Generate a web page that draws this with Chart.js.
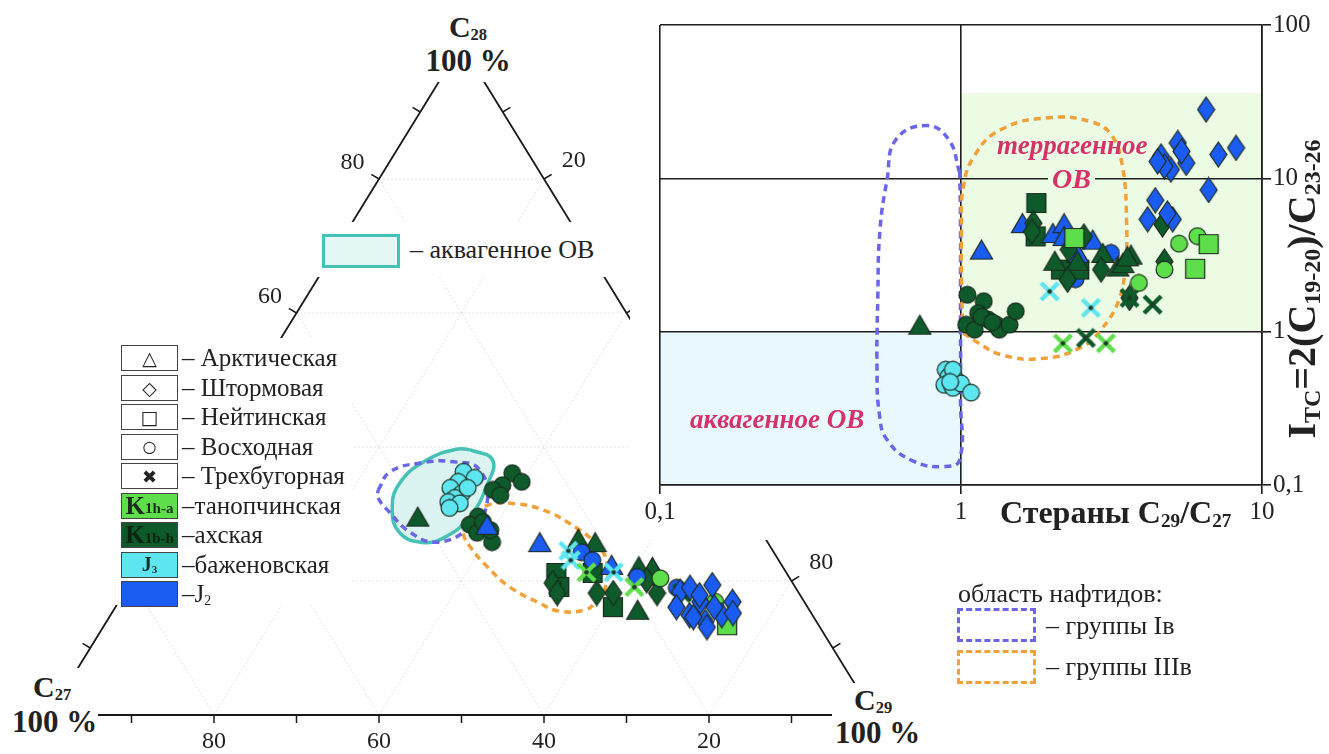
<!DOCTYPE html>
<html>
<head>
<meta charset="utf-8">
<script src="https://cdn.jsdelivr.net/npm/chart.js@4.4.1/dist/chart.umd.min.js"></script>
<style>
  body { margin: 0; width: 1329px; height: 754px; position: relative; overflow: hidden; background: #fff;
         font-family: "Liberation Serif", "Times New Roman", serif; color: #222; }
  canvas { position: absolute; }
  #tern { left: 0; top: 0; }
  #ratio { left: 630px; top: 0; background: #fff; }
  .abs { position: absolute; white-space: nowrap; line-height: 1; }
  sub { font-size: 0.55em; vertical-align: -0.2em; line-height: 0; }
  .row { position: absolute; left: 37px; height: 26px; display: flex; align-items: center; }
  .box { width: 57px; height: 26px; box-sizing: border-box; border: 1.5px solid #444; background: #fff;
         display: flex; align-items: center; justify-content: center; }
  .sym { font-family: "DejaVu Sans", sans-serif; font-size: 19px; color: #222; }
  .rowtxt { font-size: 25px; margin-left: 4px; }
  .red { color: #d6326a; font-style: italic; font-weight: bold; }
</style>
</head>
<body>
<canvas id="tern" width="1329" height="754"></canvas>
<canvas id="ratio" width="699" height="540"></canvas>

<!-- ternary corner labels -->
<div class="abs" style="left:418px;top:10px;width:100px;height:72px;background:#fff;text-align:center;font-weight:bold;">
  <div style="font-size:30px;margin-top:2px;">C<sub>28</sub></div>
  <div style="font-size:31px;margin-top:3px;">100 %</div>
</div>
<div class="abs" style="left:6px;top:668px;width:92px;height:84px;background:#fff;font-weight:bold;">
  <div style="font-size:30px;margin-left:27px;margin-top:4px;">C<sub>27</sub></div>
  <div style="font-size:31px;margin-left:6px;margin-top:4px;">100 %</div>
</div>
<div class="abs" style="left:832px;top:683px;width:97px;height:70px;background:#fff;font-weight:bold;">
  <div style="font-size:30px;margin-left:22px;margin-top:2px;">C<sub>29</sub></div>
  <div style="font-size:31px;margin-left:3px;margin-top:2px;">100 %</div>
</div>

<!-- aquagenic legend -->
<div class="abs" style="left:300px;top:222px;width:312px;height:55px;background:#fff;">
  <div style="position:absolute;left:22px;top:12px;width:78px;height:34px;box-sizing:border-box;border:3px solid #45c2b5;background:#e4f7f4;"></div>
  <div class="abs" style="left:110px;top:15px;font-size:26px;">– аквагенное ОВ</div>
</div>

<!-- symbol legend -->
<div style="position:absolute;left:84px;top:338px;width:268px;height:267px;background:#fff;">
  <div class="row" style="top:7px"><div class="box"><span class="sym">△</span></div><span class="rowtxt">– Арктическая</span></div>
  <div class="row" style="top:36.5px"><div class="box"><span class="sym">◇</span></div><span class="rowtxt">– Штормовая</span></div>
  <div class="row" style="top:66px"><div class="box"><span class="sym">□</span></div><span class="rowtxt">– Нейтинская</span></div>
  <div class="row" style="top:95.5px"><div class="box"><span class="sym" style="font-size:16px">○</span></div><span class="rowtxt">– Восходная</span></div>
  <div class="row" style="top:125px"><div class="box"><span class="sym" style="font-size:18px">✖</span></div><span class="rowtxt">– Трехбугорная</span></div>
  <div class="row" style="top:154.5px"><div class="box" style="background:#5fde4b;"><b style="font-size:25px;color:#1a2a1a">K</b><b style="font-size:15px;color:#1a2a1a;margin-top:6px">1h-a</b></div><span class="rowtxt">–танопчинская</span></div>
  <div class="row" style="top:184px"><div class="box" style="background:#0e5a2b;"><b style="font-size:25px;color:#08240f">K</b><b style="font-size:15px;color:#08240f;margin-top:6px">1b-h</b></div><span class="rowtxt">–ахская</span></div>
  <div class="row" style="top:213.5px"><div class="box" style="background:#5ee6f0;"><b style="font-size:20px;color:#14302e">J<sub>3</sub></b></div><span class="rowtxt">–баженовская</span></div>
  <div class="row" style="top:243px"><div class="box" style="background:#1a5cf2;"></div><span class="rowtxt">–J<sub>2</sub></span></div>
</div>

<!-- naphthide legend -->
<div class="abs" style="left:958px;top:581px;font-size:26px;">область нафтидов:</div>
<div class="abs" style="left:957px;top:608px;width:79px;height:34px;box-sizing:border-box;border:3.5px dashed #6a66e6;"></div>
<div class="abs" style="left:957px;top:650px;width:79px;height:34px;box-sizing:border-box;border:3.5px dashed #f0a13a;"></div>
<div class="abs" style="left:1046px;top:613px;font-size:26px;">– группы Iв</div>
<div class="abs" style="left:1046px;top:654px;font-size:26px;">– группы IIIв</div>

<!-- ratio plot labels -->
<div class="abs red" style="left:997px;top:132px;font-size:27px;">террагенное</div>
<div class="abs red" style="left:1048px;top:165px;width:47px;height:24px;text-align:center;font-size:28px;background:#ebfbe4;">ОВ</div>
<div class="abs red" style="left:690px;top:406px;font-size:27px;">аквагенное ОВ</div>
<div class="abs" style="left:1000px;top:496px;font-size:32px;font-weight:bold;">Стераны C<sub style="font-size:0.6em">29</sub>/C<sub style="font-size:0.6em">27</sub></div>
<div class="abs" style="left:1106px;top:265px;width:400px;height:48px;text-align:center;font-size:40px;font-weight:bold;transform:rotate(-90deg);">I<sub style="font-size:0.6em">TC</sub>=2(C<sub style="font-size:0.6em">19-20</sub>)/C<sub style="font-size:0.6em">23-26</sub></div>

<script>
// ---------- ternary diagram: each point is [C28 %, C29 %]; C27 = 100 - C28 - C29 ----------
const ternArcticAkh = [[29.6, 29.9], [26.3, 51.0], [25.8, 53.3], [22.2, 60.4], [22.1, 62.1], [15.7, 63.5]];
const ternArcticJ2 = [[28.4, 38.9], [25.8, 46.6], [22.4, 57.0]];
const ternStormAkh = [[19.7, 51.2], [18.2, 52.5], [18.2, 57.3], [18.2, 59.3], [18.2, 64.6], [20.1, 62.4]];
const ternStormJ2 = [[18.4, 67.3], [19.0, 68.2], [19.4, 70.7], [16.9, 70.5], [14.9, 70.2], [13.9, 72.6], [14.9, 74.1],
                     [16.9, 74.4], [16.1, 72.6], [16.1, 68.0], [14.6, 70.8], [13.1, 73.2], [15.2, 75.3], [17.9, 69.9]];
const ternNeytAkh = [[21.2, 50.9], [19.1, 52.3], [21.2, 55.3], [16.1, 60.3]];
const ternNeytTan = [[13.4, 75.5]];
const ternVoskhAkh = [[36.1, 38.1], [34.8, 39.9], [34.3, 37.8], [33.6, 37.0], [32.8, 38.3], [29.6, 37.2], [28.4, 36.8],
                      [27.2, 38.3], [25.8, 40.8], [27.6, 39.7], [28.8, 38.2], [20.6, 62.9]];
const ternVoskhTan = [[20.4, 63.9], [16.9, 72.3]];
const ternVoskhBazh = [[36.3, 32.1], [35.4, 33.9], [34.8, 32.2], [33.9, 31.7], [33.1, 33.5], [32.4, 33.0], [31.8, 32.5],
                       [31.6, 34.0], [30.9, 33.1], [33.9, 33.8]];
const ternVoskhJ2 = [[24.3, 52.4], [23.1, 54.3], [20.6, 61.0], [19.0, 66.6]];
const ternTrekhBazh = [[24.5, 50.7], [23.1, 51.7], [21.3, 57.8]];
const ternTrekhTan = [[21.3, 54.5], [19.1, 61.4]];
const ternTrekhAkh = [[18.2, 67.6]];

// fields on the ternary diagram, [C28 %, C29 %]
const ternAquaField = [[39.6, 31.2], [38.1, 34.7], [34.6, 35.9], [29.6, 36.2], [26.4, 34.6], [25.8, 32.1], [27.2, 28.9],
                       [30.6, 26.3], [34.6, 25.2], [38.1, 26.8], [39.7, 29.7], [39.6, 31.2]];
const ternGroupIb = [[33.6, 23.1], [36.3, 23.2], [37.6, 26.2], [37.8, 30.1], [36.6, 33.9], [31.3, 37.4], [27.9, 37.0],
                     [25.8, 34.1], [27.3, 30.1], [30.3, 26.1], [32.5, 23.6], [33.6, 23.1]];
const ternGroupIIIb = [[29.1, 35.9], [31.3, 37.5], [31.6, 40.1], [30.6, 44.6], [27.9, 50.0], [25.4, 53.7], [22.7, 56.3],
                       [18.7, 58.0], [16.7, 57.8], [15.7, 57.2], [15.5, 54.1], [16.7, 51.1], [19.1, 46.3], [22.1, 42.1],
                       [25.1, 38.5], [27.2, 36.6], [29.1, 35.9]];

const ternGrid = [20, 40, 60, 80];
const ternTicks = [10, 20, 30, 40, 50, 60, 70, 80, 90];
const ternLeftLabels = [20, 40, 60, 80];    // C28
const ternRightLabels = [20, 40, 60, 80];   // C29
const ternBottomLabels = [20, 40, 60, 80];  // C27

// ---------- ratio plot: each point is [C29/C27, I_TC] ----------
const ratioArcticAkh = [[0.73, 1.11], [2.44, 2.9], [2.96, 3.26], [3.32, 2.66], [3.67, 3.18], [3.45, 2.8], [3.57, 3.1], [2.05, 2.9]];
const ratioArcticJ2 = [[1.17, 3.43], [1.60, 5.1], [2.02, 4.4], [2.2, 5.1], [2.2, 4.2], [2.74, 3.98], [2.44, 3.26]];
const ratioStormAkh = [[1.74, 5.1], [2.56, 4.18], [2.28, 3.43], [2.26, 2.18], [2.92, 2.54], [3.63, 1.66], [4.67, 5.0], [4.74, 2.87], [1.72, 4.5]];
const ratioStormJ2 = [[6.52, 28.1], [4.62, 13.9], [5.25, 17.0], [4.98, 11.4], [5.6, 12.6], [4.74, 12.0], [4.5, 12.9], [5.4, 15.0],
                      [7.16, 14.3], [8.2, 15.8], [6.65, 8.4], [4.42, 7.2], [4.17, 5.4], [5.05, 5.4], [4.85, 5.9]];
const ratioNeytAkh = [[1.78, 6.9], [1.77, 4.18], [2.15, 2.54], [2.47, 2.54]];
const ratioNeytTan = [[2.38, 4.08], [6.65, 3.72], [6.0, 2.57]];
const ratioVoskhAkh = [[1.05, 1.74], [1.19, 1.58], [1.14, 1.32], [1.04, 1.11], [1.11, 1.03], [1.23, 1.2], [1.31, 1.11],
                       [1.34, 1.03], [1.45, 1.11], [1.52, 1.36], [1.17, 1.25], [1.27, 1.15]];
const ratioVoskhTan = [[3.9, 2.08], [5.3, 3.75], [6.1, 4.2], [4.74, 2.54]];
const ratioVoskhBazh = [[0.89, 0.565], [0.91, 0.51], [0.96, 0.49], [0.88, 0.45], [0.94, 0.43], [1.0, 0.46], [1.08, 0.40],
                        [0.94, 0.565], [0.92, 0.47]];
const ratioVoskhJ2 = [[2.4, 2.2], [3.15, 3.26]];
const ratioTrekhBazh = [[1.97, 1.83], [2.7, 1.43]];
const ratioTrekhTan = [[2.18, 0.84], [3.03, 0.84]];
const ratioTrekhAkh = [[2.6, 0.91], [4.33, 1.5], [3.63, 1.66]];

const ratioGroupIb = [[0.99, 10.9], [0.91, 17.9], [0.769, 22.1], [0.608, 17.9], [0.568, 9.8], [0.538, 4.6], [0.529, 1.62],
                      [0.526, 0.565], [0.535, 0.296], [0.568, 0.197], [0.695, 0.143], [0.878, 0.132], [0.99, 0.146],
                      [0.996, 0.36], [0.996, 1.62], [0.996, 5.4], [0.99, 10.9]];
const ratioGroupIIIb = [[1.015, 0.985], [1.004, 2.18], [1.004, 4.6], [1.015, 8.44], [1.105, 13.9], [1.358, 20.8], [1.99, 24.9],
                        [2.70, 23.4], [3.15, 19.3], [3.43, 12.3], [3.55, 5.14], [3.51, 2.65], [3.35, 1.62], [2.92, 1.03],
                        [2.50, 0.787], [1.84, 0.667], [1.358, 0.708], [1.139, 0.848], [1.015, 0.985]];

const terrRegion = { xMin: 1, xMax: 10, yMin: 1, yMax: 36 };
const aquaRegion = { xMin: 0.1, xMax: 1.02, yMin: 0.1, yMax: 1 };

const xTicks = [0.1, 1, 10];
const xTickLabels = ['0,1', '1', '10'];
const yTicks = [0.1, 1, 10, 100];
const yTickLabels = ['0,1', '1', '10', '100'];

// ---------- styles ----------
const C_AKH = '#0e5a2b', C_TAN = '#5fde4b', C_BAZH = '#5ee6f0', C_J2 = '#1a5cf2';
const C_IB = '#6a66e6', C_IIIB = '#f0a13a';

function marker(shape, fill) {
  const sizes = { circle: [19, 19], triangle: [25, 22], square: [22, 22], diamond: [19, 27], cross: [23, 23] };
  const [w, h] = sizes[shape];
  const c = document.createElement('canvas');
  c.width = w; c.height = h;
  const g = c.getContext('2d');
  g.fillStyle = fill; g.strokeStyle = '#1c2a1f'; g.lineWidth = 1.2;
  g.beginPath();
  if (shape === 'circle') g.arc(w / 2, h / 2, 8.4, 0, Math.PI * 2);
  if (shape === 'triangle') { g.moveTo(w / 2, 1.5); g.lineTo(w - 1.5, h - 1.5); g.lineTo(1.5, h - 1.5); g.closePath(); }
  if (shape === 'square') g.rect(1.5, 1.5, w - 3, h - 3);
  if (shape === 'diamond') { g.moveTo(w / 2, 1); g.lineTo(w - 1, h / 2); g.lineTo(w / 2, h - 1); g.lineTo(1, h / 2); g.closePath(); }
  if (shape === 'cross') {
    g.strokeStyle = fill; g.lineWidth = 4.5;
    g.moveTo(3, 3); g.lineTo(w - 3, h - 3); g.moveTo(w - 3, 3); g.lineTo(3, h - 3); g.stroke();
    g.beginPath(); g.fillStyle = '#1d3a2a'; g.arc(w / 2, h / 2, 2.3, 0, Math.PI * 2); g.fill();
    return c;
  }
  g.fill(); g.stroke();
  return c;
}

const toTern = ([c28, c29]) => ({ x: c29 + c28 / 2, y: c28 });
const toXY = ([x, y]) => ({ x, y });

function pointSet(arr, shape, color, map, order) {
  return { data: arr.map(map), pointStyle: marker(shape, color), pointRadius: 9, showLine: false, order };
}
function curveSet(arr, color, map, dashed, fillColor) {
  return {
    data: arr.map(map), showLine: true, pointRadius: 0, tension: 0.45,
    borderColor: color, borderWidth: 3.5, borderDash: dashed ? [7, 5] : [],
    fill: fillColor ? 'shape' : false, backgroundColor: fillColor || 'transparent',
    order: fillColor ? 30 : 20
  };
}

// ---------- ternary chart ----------
const ternaryFrame = {
  id: 'ternaryFrame',
  beforeDatasetsDraw(chart) {
    const { ctx, scales: { x, y } } = chart;
    const P = (c28, c29) => [x.getPixelForValue(c29 + c28 / 2), y.getPixelForValue(c28)];
    const seg = (a, b) => { ctx.beginPath(); ctx.moveTo(a[0], a[1]); ctx.lineTo(b[0], b[1]); ctx.stroke(); };
    const A = P(0, 0), B = P(0, 100), T = P(100, 0);
    const normal = (p, q) => { const dx = q[0] - p[0], dy = q[1] - p[1], n = Math.hypot(dx, dy); return [dy / n, -dx / n]; };
    const nL = normal(A, T), nR = normal(T, B), nB = normal(B, A);
    ctx.save();
    ctx.strokeStyle = 'rgba(0,0,0,0.12)'; ctx.lineWidth = 1; ctx.setLineDash([2, 2]);
    ternGrid.forEach(k => {
      seg(P(k, 0), P(k, 100 - k));
      seg(P(0, k), P(100 - k, k));
      seg(P(0, 100 - k), P(100 - k, 0));
    });
    ctx.setLineDash([]);
    ctx.strokeStyle = '#1a1a1a'; ctx.lineWidth = 1.8;
    ctx.beginPath(); ctx.moveTo(A[0], A[1]); ctx.lineTo(T[0], T[1]); ctx.lineTo(B[0], B[1]); ctx.closePath(); ctx.stroke();
    ctx.lineWidth = 1.5;
    const tick = (p, n, len) => seg(p, [p[0] + n[0] * len, p[1] + n[1] * len]);
    ternTicks.forEach(k => {
      tick(P(k, 0), nL, 9);
      tick(P(100 - k, k), nR, 9);
      tick(P(0, 100 - k), nB, 8);
    });
    ctx.fillStyle = '#222'; ctx.font = '24px "Liberation Serif"'; ctx.textAlign = 'center'; ctx.textBaseline = 'middle';
    const label = (p, n, d, t) => ctx.fillText(String(t), p[0] + n[0] * d, p[1] + n[1] * d);
    ternLeftLabels.forEach(k => label(P(k, 0), nL, 31, k));
    ternRightLabels.forEach(k => label(P(100 - k, k), nR, 35, k));
    ternBottomLabels.forEach(k => label(P(0, 100 - k), nB, 27, k));
    ctx.restore();
  }
};

new Chart(document.getElementById('tern'), {
  type: 'scatter',
  data: {
    datasets: [
      pointSet(ternStormJ2, 'diamond', C_J2, toTern, 0),
      pointSet(ternNeytTan, 'square', C_TAN, toTern, 1),
      pointSet(ternVoskhTan, 'circle', C_TAN, toTern, 1),
      pointSet(ternTrekhAkh, 'cross', C_AKH, toTern, 1),
      pointSet(ternTrekhTan, 'cross', C_TAN, toTern, 2),
      pointSet(ternTrekhBazh, 'cross', C_BAZH, toTern, 2),
      pointSet(ternVoskhJ2, 'circle', C_J2, toTern, 3),
      pointSet(ternArcticJ2, 'triangle', C_J2, toTern, 3),
      pointSet(ternStormAkh, 'diamond', C_AKH, toTern, 4),
      pointSet(ternNeytAkh, 'square', C_AKH, toTern, 5),
      pointSet(ternArcticAkh, 'triangle', C_AKH, toTern, 5),
      pointSet(ternVoskhBazh, 'circle', C_BAZH, toTern, 6),
      pointSet(ternVoskhAkh, 'circle', C_AKH, toTern, 6),
      curveSet(ternGroupIb, C_IB, toTern, true),
      curveSet(ternGroupIIIb, C_IIIB, toTern, true),
      curveSet(ternAquaField, '#45c2b5', toTern, false, 'rgba(214,242,238,0.85)')
    ]
  },
  options: {
    responsive: false, animation: false, devicePixelRatio: 1, events: [],
    layout: { padding: { left: 49, right: 455, top: 45, bottom: 39 } },
    scales: {
      x: { type: 'linear', min: 0, max: 100, display: false },
      y: { type: 'linear', min: 0, max: 100, display: false }
    },
    plugins: { legend: { display: false }, tooltip: { enabled: false } }
  },
  plugins: [ternaryFrame]
});

// ---------- ratio chart ----------
const regionFill = {
  id: 'regionFill',
  beforeDraw(chart) {
    const { ctx, scales: { x, y } } = chart;
    const box = (r, color) => {
      const x0 = x.getPixelForValue(r.xMin), x1 = x.getPixelForValue(r.xMax);
      const y0 = y.getPixelForValue(r.yMax), y1 = y.getPixelForValue(r.yMin);
      ctx.fillStyle = color; ctx.fillRect(x0, y0, x1 - x0, y1 - y0);
    };
    ctx.save();
    box(terrRegion, '#ebfbe4');
    box(aquaRegion, '#e8f8fc');
    ctx.restore();
  }
};

const tickFont = { family: 'Liberation Serif', size: 25 };
new Chart(document.getElementById('ratio'), {
  type: 'scatter',
  data: {
    datasets: [
      pointSet(ratioStormJ2, 'diamond', C_J2, toXY, 0),
      pointSet(ratioNeytTan, 'square', C_TAN, toXY, 1),
      pointSet(ratioVoskhTan, 'circle', C_TAN, toXY, 1),
      pointSet(ratioTrekhAkh, 'cross', C_AKH, toXY, 1),
      pointSet(ratioTrekhTan, 'cross', C_TAN, toXY, 2),
      pointSet(ratioTrekhBazh, 'cross', C_BAZH, toXY, 2),
      pointSet(ratioStormAkh, 'diamond', C_AKH, toXY, 3),
      pointSet(ratioArcticAkh, 'triangle', C_AKH, toXY, 3),
      pointSet(ratioArcticJ2, 'triangle', C_J2, toXY, 4),
      pointSet(ratioNeytAkh, 'square', C_AKH, toXY, 5),
      pointSet(ratioVoskhJ2, 'circle', C_J2, toXY, 6),
      pointSet(ratioVoskhBazh, 'circle', C_BAZH, toXY, 6),
      pointSet(ratioVoskhAkh, 'circle', C_AKH, toXY, 6),
      curveSet(ratioGroupIIIb, C_IIIB, toXY, true),
      curveSet(ratioGroupIb, C_IB, toXY, true)
    ]
  },
  options: {
    responsive: false, animation: false, devicePixelRatio: 1, events: [],
    layout: { padding: { left: 30, top: 25, right: 0, bottom: 0 } },
    scales: {
      x: {
        type: 'logarithmic', position: 'bottom', min: 0.1, max: 10,
        afterBuildTicks: s => { s.ticks = xTicks.map(v => ({ value: v })); },
        afterFit: s => { s.height = 55; },
        ticks: { autoSkip: false, maxRotation: 0, padding: 3, color: '#222', font: tickFont, callback: (v, i) => xTickLabels[i] },
        grid: { color: '#1e1e1e', lineWidth: 1.6, tickLength: 9 },
        border: { color: '#1e1e1e', width: 1.6 }
      },
      y: {
        type: 'logarithmic', position: 'right', min: 0.1, max: 100,
        afterBuildTicks: s => { s.ticks = yTicks.map(v => ({ value: v })); },
        afterFit: s => { s.width = 67; },
        ticks: { autoSkip: false, padding: 2, color: '#222', font: tickFont, callback: (v, i) => yTickLabels[i] },
        grid: { color: '#1e1e1e', lineWidth: 1.6, tickLength: 9 },
        border: { color: '#1e1e1e', width: 1.6 }
      }
    },
    plugins: { legend: { display: false }, tooltip: { enabled: false } }
  },
  plugins: [regionFill]
});
</script>
</body>
</html>
